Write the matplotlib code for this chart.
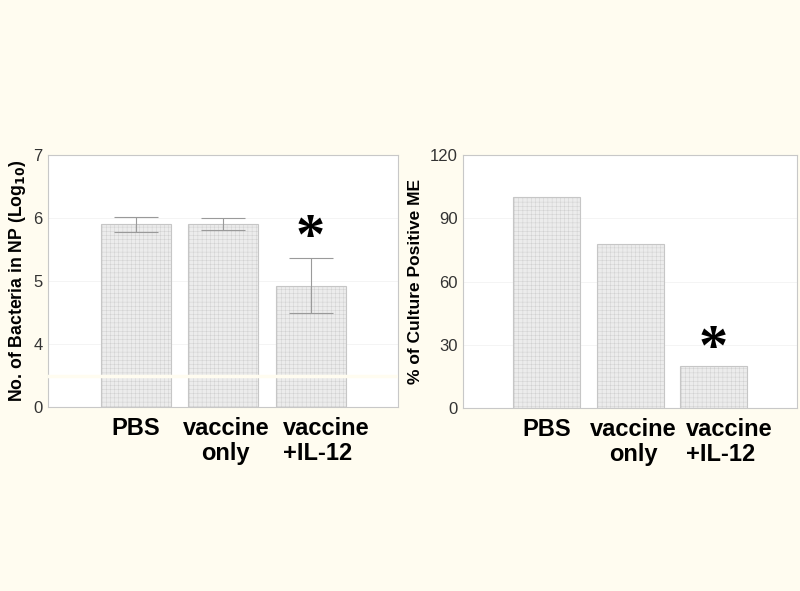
import matplotlib
matplotlib.use("Agg")
import matplotlib.pyplot as plt
import numpy as np

# ---------------------------------------------------------------------------
# Data
# ---------------------------------------------------------------------------
groups = ["PBS", "vaccine\nonly", "vaccine\n+IL-12"]

# left panel: log10 bacteria in NP (broken axis, 0 shown below the break)
np_log = [5.90, 5.90, 4.92]
np_err_low = [0.12, 0.09, 0.43]
np_err_high = [0.11, 0.10, 0.45]
np_ticks = [0, 4, 5, 6, 7]

# right panel: % culture positive middle ear
me_pct = [100, 78, 20]
me_ticks = [0, 30, 60, 90, 120]

BG = "#fffcf0"
BAR = "#ececec"
EDGE = "#c6c6c6"
BREAK_OFFSET = 3  # "0" sits one unit below 4 on the broken axis

plt.rcParams["hatch.linewidth"] = 0.25
plt.rcParams["hatch.color"] = "#d4d4d4"
plt.rcParams["font.family"] = ["Liberation Sans", "DejaVu Sans"]

fig = plt.figure(figsize=(8.0, 5.91), dpi=100, facecolor=BG)
ax1 = fig.add_axes([0.060, 0.3113, 0.4375, 0.4264])
ax2 = fig.add_axes([0.579, 0.3096, 0.4175, 0.4280])


def style_axis(ax, x):
    ax.set_facecolor("white")
    for s in ax.spines.values():
        s.set_color("#c8c8c8")
        s.set_linewidth(0.8)
    ax.tick_params(length=0, labelsize=12, colors="#333333", pad=4)
    ax.yaxis.grid(True, color="#f2f2f2", lw=0.6)
    ax.set_axisbelow(True)
    ax.set_xlim(-1, 3)
    ax.set_xticks(x)
    ax.set_xticklabels([])
    # category labels; the last one is left-aligned in the original
    shifts = [0, 2, 11.5]
    for xi, name, dx in zip(x, groups, shifts):
        ax.annotate(name, xy=(xi, 0), xycoords=("data", "axes fraction"),
                    xytext=(dx, -7), textcoords="offset points",
                    ha="center", va="top", fontsize=17, fontweight="bold",
                    multialignment="left" if dx > 10 else "center",
                    linespacing=1.15)


def star(ax, xpos, ypos):
    ax.text(xpos, ypos, "*", ha="center", va="center_baseline",
            fontsize=42, fontweight="bold", family="Liberation Serif")


x = np.arange(len(groups))

# --- left: broken axis ---
heights = [v - BREAK_OFFSET for v in np_log]
ax1.bar(x, heights, width=0.8, bottom=BREAK_OFFSET, color=BAR,
        edgecolor=EDGE, hatch="++++", linewidth=0.8, zorder=2)
ax1.errorbar(x, np_log, yerr=[np_err_low, np_err_high], fmt="none",
             ecolor="#9a9a9a", elinewidth=0.8, capsize=16, capthick=0.8,
             zorder=3)
ax1.set_ylim(BREAK_OFFSET, 7)
tick_pos = [BREAK_OFFSET if t == 0 else t for t in np_ticks]
ax1.set_yticks(tick_pos)
ax1.set_yticklabels([str(t) for t in np_ticks])
style_axis(ax1, x)
ax1.axhline(3.5, color=BG, lw=2.5, zorder=4)
ax1.set_ylabel("No. of Bacteria in NP (Log$_{\\mathbf{10}}$)", fontsize=12.7,
               fontweight="bold", labelpad=4)
star(ax1, x[2], 5.77)

# --- right ---
ax2.bar(x, me_pct, width=0.8, color=BAR, edgecolor=EDGE, hatch="++++",
        linewidth=0.8, zorder=2)
ax2.set_ylim(0, 120)
ax2.set_yticks(me_ticks)
style_axis(ax2, x)
ax2.set_ylabel("% of Culture Positive ME", fontsize=12.5, fontweight="bold",
               labelpad=5)
star(ax2, x[2], 30.5)

fig.savefig("out.png", dpi=100, facecolor=BG)
